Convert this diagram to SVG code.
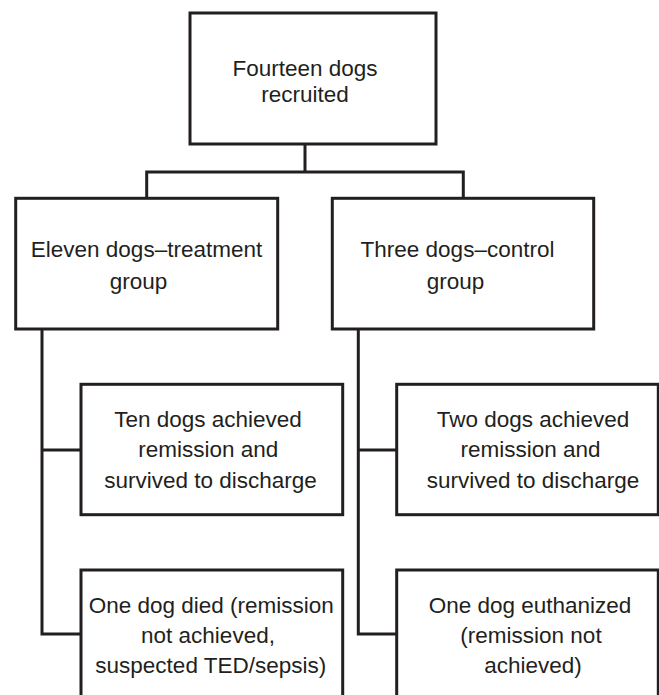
<svg xmlns="http://www.w3.org/2000/svg" width="659" height="695" viewBox="0 0 659 695">
<style>
.box{fill:#fff;stroke:#231f20;stroke-width:3}
.ln{fill:none;stroke:#231f20;stroke-width:3;stroke-linecap:square}
text{font-family:"Liberation Sans",Arial,sans-serif;font-size:22.5px;fill:#231f20;text-anchor:middle}
</style>
<rect width="659" height="695" fill="#fff"/>
<g id="connectors">
<path class="ln" d="M305,144V172M146.7,172H463.3M146.7,172V198M463.3,172V198"/>
<path class="ln" d="M42,329V634M42,450H81M42,634H81"/>
<path class="ln" d="M358.3,329V634M358.3,450H396.7M358.3,634H396.7"/>
</g>
<g id="n-recruited">
<rect class="box" x="190" y="13" width="246" height="131"/>
<text x="305" y="76">Fourteen dogs</text>
<text x="305" y="102">recruited</text>
</g>
<g id="n-treatment">
<rect class="box" x="15.7" y="198.3" width="262" height="130.7"/>
<text x="146.5" y="256.5">Eleven dogs–treatment</text>
<text x="138.5" y="289">group</text>
</g>
<g id="n-control">
<rect class="box" x="332.3" y="198.3" width="261.4" height="130.7"/>
<text x="457.5" y="256.5">Three dogs–control</text>
<text x="455.5" y="289">group</text>
</g>
<g id="n-ten">
<rect class="box" x="81" y="384.3" width="261.7" height="130.4"/>
<text x="208" y="427">Ten dogs achieved</text>
<text x="208.3" y="457">remission and</text>
<text x="210.5" y="488">survived to discharge</text>
</g>
<g id="n-one-died">
<rect class="box" x="81" y="570" width="261.7" height="140"/>
<text x="211.3" y="613">One dog died (remission</text>
<text x="208" y="643">not achieved,</text>
<text x="210.8" y="673">suspected TED/sepsis)</text>
</g>
<g id="n-two">
<rect class="box" x="396.7" y="384.3" width="261.6" height="130.4"/>
<text x="533" y="427">Two dogs achieved</text>
<text x="530.5" y="457">remission and</text>
<text x="533" y="488">survived to discharge</text>
</g>
<g id="n-euth">
<rect class="box" x="396.7" y="570" width="261.6" height="140"/>
<text x="530" y="613">One dog euthanized</text>
<text x="531" y="643">(remission not</text>
<text x="533" y="673">achieved)</text>
</g>
</svg>
